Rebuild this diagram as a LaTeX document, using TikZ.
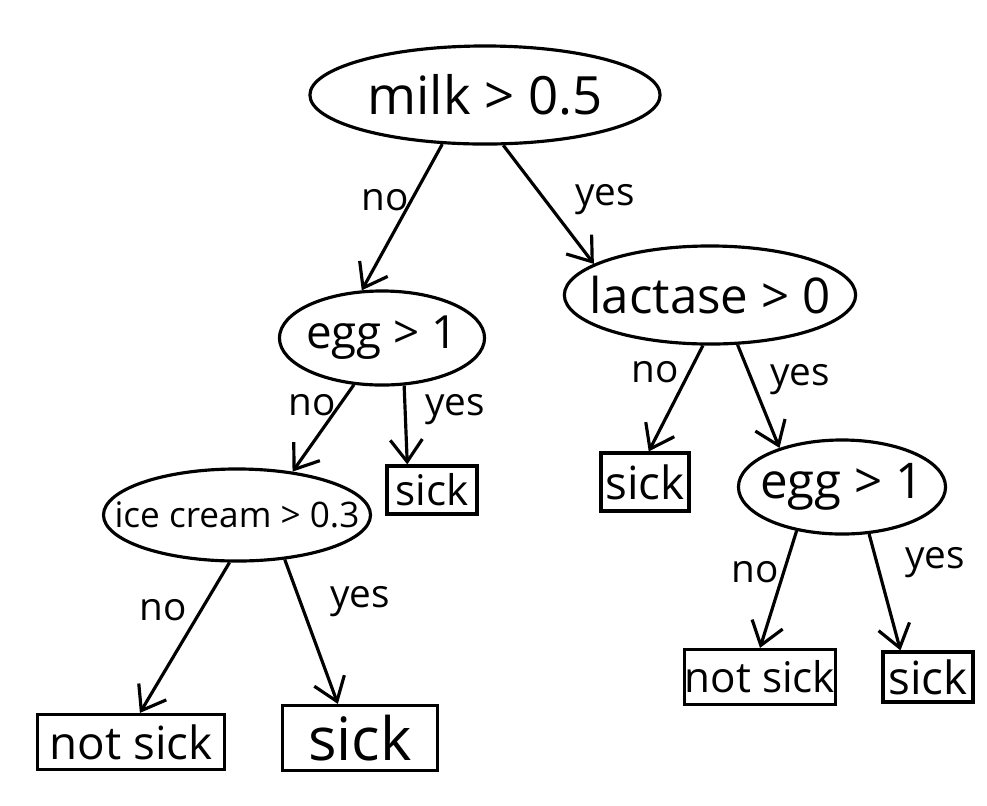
\documentclass[tikz,border=0pt]{standalone}
\usepackage{fontspec}
\setmainfont{Open Sans}
\usetikzlibrary{shapes.geometric,arrows.meta}

\begin{document}
\begin{tikzpicture}[
      x=0.01cm, y=-0.01cm,
      test/.style={draw, ellipse, line width=0.9pt, inner ysep=0pt, text centered}, % nodos de pregunta
      leaf/.style={draw, rectangle, line width=0.9pt, inner sep=0pt, text centered}, % hojas
      arr/.style={line width=0.9pt, -{Straight Barb[length=2.2mm, width=3.2mm]}},
      lbl/.style={font=\fontsize{11}{13}\selectfont}
    ]
    \useasboundingbox (0,0) rectangle (987,805);
    % Root test
    \node [test, inner xsep=-0.1cm, minimum width=3.5cm, minimum height=0.98cm, font=\fontsize{15}{18}\selectfont] (milk) at (485,95) {milk > 0.5};
    % Second level
    \node [test, inner xsep=-0.05cm, minimum width=2.05cm, minimum height=0.94cm, font=\fontsize{13}{15}\selectfont] (egga) at (382,338) {egg > 1};
    \node [test, inner xsep=-0.175cm, minimum width=2.9cm, minimum height=0.98cm, font=\fontsize{14}{16}\selectfont] (lactase) at (710,295) {lactase > 0};
    % Third level
    \node [test, inner xsep=-0.28cm, minimum width=2.65cm, minimum height=0.92cm, font=\fontsize{10}{12}\selectfont] (icecream) at (237,515) {ice cream > 0.3};
    \node [leaf, minimum width=0.9cm, minimum height=0.48cm, font=\fontsize{12}{14}\selectfont] (sicka) at (432,490) {sick};
    \node [leaf, minimum width=0.88cm, minimum height=0.58cm, font=\fontsize{13}{15}\selectfont] (sickb) at (645,482) {sick};
    \node [test, inner xsep=-0.085cm, minimum width=1.95cm, minimum height=0.94cm, font=\fontsize{14}{16}\selectfont] (eggb) at (842,487) {egg > 1};
    % Leaves
    \node [leaf, minimum width=1.87cm, minimum height=0.55cm, font=\fontsize{13}{15}\selectfont] (notsicka) at (131,742) {not sick};
    \node [leaf, minimum width=1.55cm, minimum height=0.65cm, font=\fontsize{17}{20}\selectfont] (sickc) at (360,738) {sick};
    \node [leaf, minimum width=1.4cm, minimum height=0.55cm, font=\fontsize{12}{14}\selectfont] (notsickb) at (760,677) {not sick};
    \node [leaf, minimum width=0.9cm, minimum height=0.5cm, font=\fontsize{13}{15}\selectfont] (sickd) at (928,677) {sick};
    % Branches
    \draw [arr] (milk.229) -- (egga.113);
    \draw [arr] (milk.290) -- (lactase.165);
    \draw [arr] (egga.239) -- (icecream.38);
    \draw [arr] (egga.295) -- (sicka.134);
    \draw [arr] (lactase.262) -- (sickb.83);
    \draw [arr] (lactase.299) -- (eggb.148);
    \draw [arr] (icecream.261) -- (notsicka.73);
    \draw [arr] (icecream.317) -- (sickc.123);
    \draw [arr] (eggb.224) -- (notsickb.90);
    \draw [arr] (eggb.300) -- (sickd.136);
    % Branch labels
    \node [lbl] (noa) at (385,200) {no};
    \node [lbl] (yesa) at (605,200) {yes};
    \node [lbl] (nob) at (312,405) {no};
    \node [lbl] (yesb) at (455,410) {yes};
    \node [lbl] (noc) at (655,372) {no};
    \node [lbl] (yesc) at (800,380) {yes};
    \node [lbl] (nod) at (163,610) {no};
    \node [lbl] (yesd) at (360,602) {yes};
    \node [lbl] (noe) at (755,572) {no};
    \node [lbl] (yese) at (935,563) {yes};
\end{tikzpicture}
\end{document}
